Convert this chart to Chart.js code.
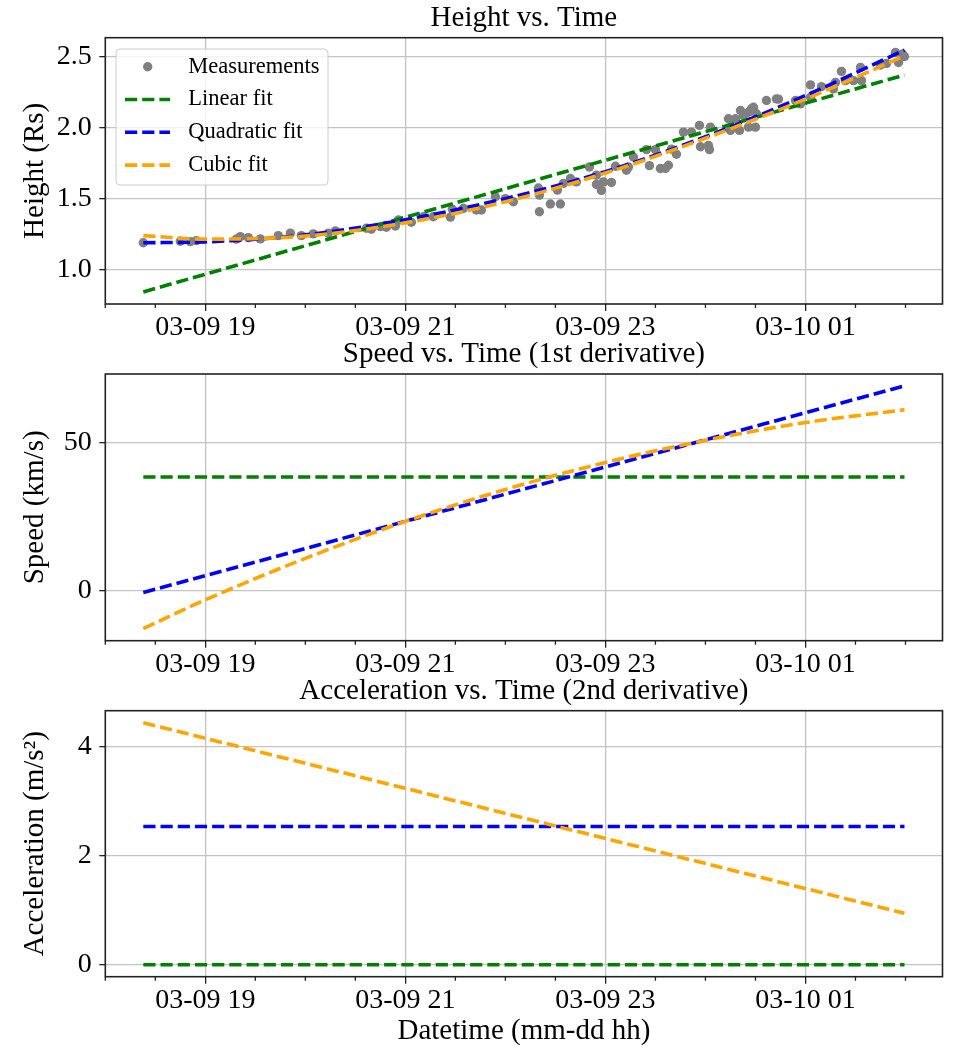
<!DOCTYPE html>
<html><head><meta charset="utf-8">
<script src="https://cdn.jsdelivr.net/npm/chart.js@4.4.1/dist/chart.umd.min.js"></script>
<style>
html,body{margin:0;padding:0;background:#fff;width:953px;height:1045px;overflow:hidden;}
canvas{position:absolute;left:0;}
</style></head><body>
<canvas id="c1" width="953" height="345" style="top:0px"></canvas>
<canvas id="c2" width="953" height="345" style="top:335px"></canvas>
<canvas id="c3" width="953" height="375" style="top:670px"></canvas>
<script>
// ---- data (hours since 03-09 00:00) ----
const measTimes = [18.38,18.75,18.85,18.91,19.31,19.35,19.43,19.55,19.73,19.85,19.96,20.08,20.23,20.30,20.61,20.66,20.75,20.81,20.90,20.93,21.06,21.18,21.28,21.45,21.47,21.58,21.71,21.76,21.90,22.00,22.08,22.33,22.34,22.34,22.45,22.52,22.55,22.58,22.65,22.71,22.84,22.91,22.91,22.96,22.98,23.06,23.10,23.21,23.23,23.28,23.41,23.44,23.50,23.55,23.60,23.63,23.66,23.71,23.78,23.86,23.94,23.95,24.03,24.04,24.05,24.23,24.25,24.30,24.34,24.35,24.38,24.43,24.43,24.46,24.48,24.50,24.51,24.61,24.71,24.73,24.90,24.95,25.05,25.05,25.16,25.28,25.30,25.36,25.40,25.48,25.55,25.56,25.75,25.81,25.90,25.93,25.97,25.99];
const measHeights = [1.190,1.200,1.198,1.205,1.215,1.233,1.226,1.217,1.240,1.257,1.240,1.252,1.257,1.273,1.292,1.285,1.303,1.299,1.308,1.350,1.334,1.373,1.373,1.370,1.425,1.432,1.420,1.420,1.513,1.500,1.478,1.575,1.525,1.408,1.462,1.560,1.462,1.607,1.642,1.618,1.723,1.665,1.600,1.558,1.618,1.614,1.728,1.700,1.723,1.793,1.845,1.732,1.845,1.712,1.712,1.735,1.848,1.812,1.968,1.968,2.015,1.865,1.875,1.845,2.003,2.062,1.980,2.062,1.980,2.120,2.085,2.108,2.003,2.132,2.143,2.003,2.097,2.190,2.202,2.200,2.190,2.167,2.300,2.213,2.288,2.272,2.318,2.395,2.330,2.330,2.423,2.330,2.440,2.451,2.528,2.458,2.517,2.500];

const lineTimes = [18.38, 25.99];
const curveTimes = [18.38, 19, 20, 21, 22, 23, 24, 25, 25.99];

const linearHeight = [0.844, 2.370];
const quadHeight = [1.190, 1.196, 1.245, 1.352, 1.500, 1.690, 1.935, 2.225, 2.545];
const cubicHeight = [1.240, 1.215, 1.237, 1.330, 1.478, 1.680, 1.925, 2.200, 2.505];

const linearSpeed = [38.5, 38.5];
const quadSpeed = [-0.5, 69.3];
const cubicSpeed = [-12.7, -3.0, 11.0, 23.5, 34.3, 43.4, 50.9, 56.9, 61.2];

const linearAccel = [0, 0];
const quadAccel = [2.53, 2.53];
const cubicAccel = [4.43, 0.94];

const xTickHours = [19, 21, 23, 25];
const minorTickHours = [18, 18.5, 19.5, 20, 20.5, 21.5, 22, 22.5, 23.5, 24, 24.5, 25.5, 26];
const heightTicks = [1.0, 1.5, 2.0, 2.5];
const speedTicks = [0, 50];
const accelTicks = [0, 2, 4];

// ---- style ----
const FONT = "'Liberation Serif','Times New Roman',serif";
Chart.defaults.font.family = FONT;
Chart.defaults.color = '#000';
const GRID = '#c4c4c4';
const DASH = [12.2, 5.0];
const LW = 3.6;
const C_LIN = '#008000', C_QUAD = '#0000ff', C_CUB = '#ffa500', C_PT = '#808080';

function pairs(xs, ys){ return xs.map((x,i)=>({x:x, y:ys[i]})); }
function hourLabel(h){
  const d = 9 + Math.floor(h/24);
  const hh = ((h % 24) + 24) % 24;
  return '03-' + String(d).padStart(2,'0') + ' ' + String(hh).padStart(2,'0');
}
function lineDs(label, color, xs, ys, order){
  return {label, data: pairs(xs, ys), borderColor: color, backgroundColor: color,
    borderWidth: LW, borderDash: DASH, borderCapStyle: 'butt', pointRadius: 0,
    fill: false, cubicInterpolationMode: 'monotone', order};
}

const framePlugin = {
  id: 'frame',
  afterDatasetsDraw(chart){
    const {ctx, chartArea: a} = chart;
    const xs = chart.scales.x;
    ctx.save();
    ctx.strokeStyle = '#222';
    ctx.lineWidth = 1.3;
    ctx.beginPath();
    for (const m of minorTickHours){
      const px = xs.getPixelForValue(m);
      ctx.moveTo(px, a.bottom); ctx.lineTo(px, a.bottom + 4);
    }
    ctx.stroke();
    ctx.lineWidth = 1.6;
    ctx.strokeRect(a.left, a.top, a.right - a.left, a.bottom - a.top);
    ctx.restore();
  }
};

const legendPlugin = {
  id: 'boxLegend',
  afterDraw(chart){
    const {ctx, chartArea: a} = chart;
    const x0 = a.left + 10.7, y0 = a.top + 11.3, w = 212, h = 136;
    ctx.save();
    ctx.beginPath();
    if (ctx.roundRect) ctx.roundRect(x0, y0, w, h, 4); else ctx.rect(x0, y0, w, h);
    ctx.fillStyle = 'rgba(255,255,255,0.8)';
    ctx.fill();
    ctx.strokeStyle = '#cccccc';
    ctx.lineWidth = 1;
    ctx.stroke();
    chart.data.datasets.forEach((ds, i) => {
      const cy = y0 + 17.7 + i * 32.8;
      if (ds.showLine === false){
        ctx.fillStyle = ds.pointBackgroundColor;
        ctx.beginPath(); ctx.arc(x0 + 31.7, cy, ds.pointRadius, 0, Math.PI*2); ctx.fill();
      } else {
        ctx.strokeStyle = ds.borderColor; ctx.lineWidth = ds.borderWidth;
        ctx.setLineDash(ds.borderDash);
        ctx.beginPath(); ctx.moveTo(x0 + 9, cy); ctx.lineTo(x0 + 54, cy); ctx.stroke();
        ctx.setLineDash([]);
      }
      ctx.fillStyle = '#000';
      ctx.font = '22.5px ' + FONT;
      ctx.textBaseline = 'middle';
      ctx.textAlign = 'left';
      ctx.fillText(ds.label, x0 + 72.3, cy);
    });
    ctx.restore();
  }
};

function makeChart(id, o){
  const xTitle = o.xTitle ? {display: true, text: o.xTitle, font: {size: 29, lineHeight: 0.94}, padding: {top: 0, bottom: 0}} : {display: false};
  return new Chart(document.getElementById(id), {
    type: 'line',
    data: {datasets: o.datasets},
    options: {
      responsive: false, animation: false, devicePixelRatio: 1,
      layout: {padding: {left: 0, right: 10.5, top: 0, bottom: 0}},
      plugins: {
        legend: {display: false}, tooltip: {enabled: false},
        title: {display: true, text: o.title, fullSize: false, color: '#000',
          font: {size: 29, weight: 'normal'}, padding: {top: o.titleTop, bottom: 2.4}}
      },
      scales: {
        x: {
          type: 'linear', min: 18.0, max: 26.37,
          afterBuildTicks: s => { s.ticks = xTickHours.map(v => ({value: v})); },
          afterFit: s => { s.height = o.xHeight; },
          ticks: {callback: v => hourLabel(v), font: {size: 28, lineHeight: 1.0}, padding: 3, maxRotation: 0, autoSkip: false},
          grid: {color: GRID, lineWidth: 1.3, drawTicks: true, tickLength: 7, tickColor: '#222', tickWidth: 1.3},
          border: {display: false},
          title: xTitle
        },
        y: {
          type: 'linear', min: o.yMin, max: o.yMax,
          afterBuildTicks: s => { s.ticks = o.yTicks.map(v => ({value: v})); },
          afterFit: s => { s.width = 105.3; },
          ticks: {callback: o.yFmt, font: {size: 28}, padding: 7.6},
          grid: {color: GRID, lineWidth: 1.3, drawTicks: true, tickLength: 6, tickColor: '#222', tickWidth: 1.3},
          border: {display: false},
          title: {display: true, text: o.yTitle, font: {size: 29}, padding: {top: 18, bottom: 0}}
        }
      }
    },
    plugins: o.legend ? [framePlugin, legendPlugin] : [framePlugin]
  });
}

makeChart('c1', {
  title: 'Height vs. Time', titleTop: 0.5, xHeight: 41,
  yMin: 0.759, yMax: 2.632, yTicks: heightTicks, yFmt: v => v.toFixed(1), yTitle: 'Height (Rs)', legend: true,
  datasets: [
    {label: 'Measurements', data: pairs(measTimes, measHeights), showLine: false, pointRadius: 4.7,
     pointBackgroundColor: C_PT, pointBorderWidth: 0, pointBorderColor: C_PT, borderColor: C_PT, order: 4},
    lineDs('Linear fit', C_LIN, lineTimes, linearHeight, 3),
    lineDs('Quadratic fit', C_QUAD, curveTimes, quadHeight, 2),
    lineDs('Cubic fit', C_CUB, curveTimes, cubicHeight, 1)
  ]
});

makeChart('c2', {
  title: 'Speed vs. Time (1st derivative)', titleTop: 1.8, xHeight: 39.3,
  yMin: -16.8, yMax: 73.3, yTicks: speedTicks, yFmt: v => String(v), yTitle: 'Speed (km/s)',
  datasets: [
    lineDs('Linear fit', C_LIN, lineTimes, linearSpeed, 3),
    lineDs('Quadratic fit', C_QUAD, lineTimes, quadSpeed, 2),
    lineDs('Cubic fit', C_CUB, curveTimes, cubicSpeed, 1)
  ]
});

makeChart('c3', {
  title: 'Acceleration vs. Time (2nd derivative)', titleTop: 3.5, xHeight: 68.3,
  yMin: -0.22, yMax: 4.65, yTicks: accelTicks, yFmt: v => String(v), yTitle: 'Acceleration (m/s\u00B2)',
  xTitle: 'Datetime (mm-dd hh)',
  datasets: [
    lineDs('Linear fit', C_LIN, lineTimes, linearAccel, 3),
    lineDs('Quadratic fit', C_QUAD, lineTimes, quadAccel, 2),
    lineDs('Cubic fit', C_CUB, lineTimes, cubicAccel, 1)
  ]
});
</script>
</body></html>
